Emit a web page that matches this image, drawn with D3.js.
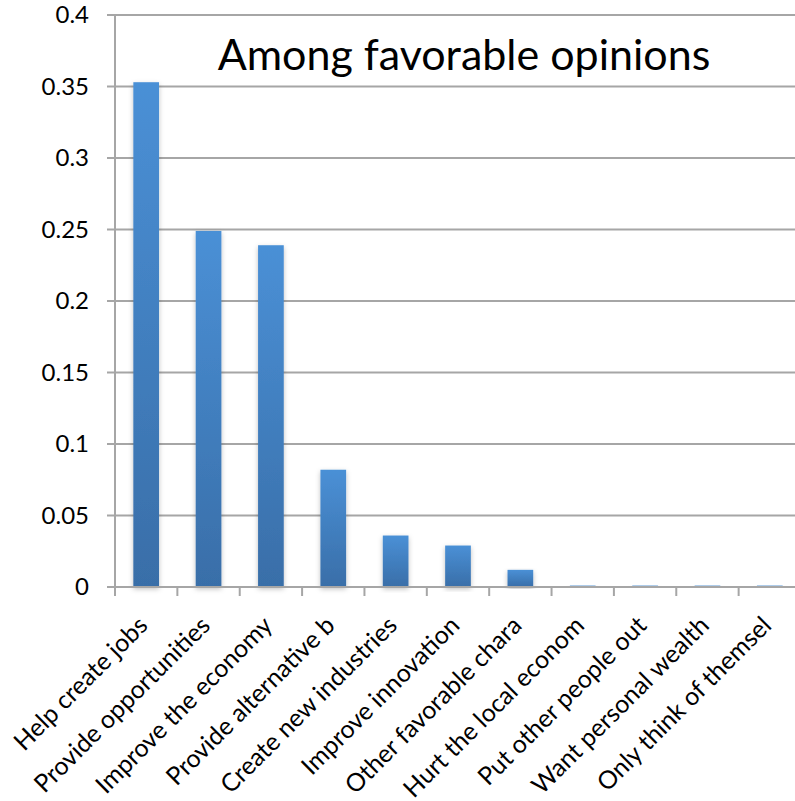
<!DOCTYPE html>
<html>
<head>
<meta charset="utf-8">
<script src="https://cdn.jsdelivr.net/npm/d3@7"></script>
<style>
  html, body { margin: 0; padding: 0; background: #fff; overflow: hidden; }
  svg { display: block; }
</style>
</head>
<body>
<svg id="chart" width="795" height="801"></svg>
<script>
const categories = [
  "Help create jobs",
  "Provide opportunities",
  "Improve the economy",
  "Provide alternative b",
  "Create new industries",
  "Improve innovation",
  "Other favorable chara",
  "Hurt the local econom",
  "Put other people out",
  "Want personal wealth",
  "Only think of themsel"
];
const values = [0.353, 0.249, 0.239, 0.082, 0.036, 0.029, 0.012, 0.001, 0.001, 0.001, 0.001];
const yTicks = [0, 0.05, 0.1, 0.15, 0.2, 0.25, 0.3, 0.35, 0.4];
const yTickLabels = ["0", "0.05", "0.1", "0.15", "0.2", "0.25", "0.3", "0.35", "0.4"];
const title = "Among favorable opinions";

const svg = d3.select("#chart");
const font = "Lato, 'Open Sans', sans-serif";
const plotLeft = 115, plotRight = 801, plotTop = 15, plotBottom = 587;

const x = d3.scaleBand().domain(categories).range([plotLeft, plotRight]).paddingInner(0.588).paddingOuter(0.294);
const y = d3.scaleLinear().domain([0, 0.4]).range([plotBottom, plotTop]);

const defs = svg.append("defs");
const grad = defs.append("linearGradient").attr("id", "barGrad").attr("x1", 0).attr("y1", 0).attr("x2", 0).attr("y2", 1);
grad.append("stop").attr("offset", "0%").attr("stop-color", "#4a90d6");
grad.append("stop").attr("offset", "100%").attr("stop-color", "#396ea8");
const filt = defs.append("filter").attr("id", "shadow").attr("x", "-30%").attr("y", "-10%").attr("width", "160%").attr("height", "120%");
filt.append("feDropShadow").attr("dx", 0).attr("dy", 2).attr("stdDeviation", 2.5).attr("flood-color", "#000").attr("flood-opacity", 0.25);

// gridlines
svg.append("g").selectAll("line").data(yTicks).join("line")
  .attr("x1", plotLeft - 8).attr("x2", 795)
  .attr("y1", d => y(d)).attr("y2", d => y(d))
  .attr("stroke", "#a6a6a6").attr("stroke-width", 2);

// y axis line
svg.append("line").attr("x1", plotLeft).attr("x2", plotLeft).attr("y1", y(0.4) - 1).attr("y2", plotBottom + 9)
  .attr("stroke", "#a6a6a6").attr("stroke-width", 2);

// x ticks
const bandStep = x.step();
const tickXs = d3.range(categories.length + 1).map(i => plotLeft + i * bandStep);
svg.append("g").selectAll("line").data(tickXs).join("line")
  .attr("x1", d => d).attr("x2", d => d).attr("y1", plotBottom).attr("y2", plotBottom + 9)
  .attr("stroke", "#a6a6a6").attr("stroke-width", 2);

// bars
svg.append("g").selectAll("rect").data(values).join("rect")
  .attr("x", (d, i) => x(categories[i]))
  .attr("width", x.bandwidth())
  .attr("y", d => y(d))
  .attr("height", d => Math.max(1, y(0) - y(d)))
  .attr("fill", "url(#barGrad)")
  .attr("filter", "url(#shadow)");

// redraw baseline on top
svg.append("line").attr("x1", plotLeft - 8).attr("x2", 795).attr("y1", plotBottom).attr("y2", plotBottom)
  .attr("stroke", "#a6a6a6").attr("stroke-width", 2);

// y tick labels
svg.append("g").selectAll("text").data(yTicks).join("text")
  .attr("x", 89).attr("y", d => y(d)).attr("dy", "0.35em")
  .attr("text-anchor", "end")
  .attr("font-family", font).attr("font-size", 24).attr("fill", "#000")
  .text((d, i) => yTickLabels[i]);

// x labels: size fitted to the reference label length
const probe = svg.append("text").attr("font-family", font).attr("font-size", 20).text(categories[0]);
const labelSize = 20 * 177 / probe.node().getComputedTextLength();
probe.remove();
svg.append("g").selectAll("text").data(categories).join("text")
  .attr("transform", d => `translate(${x(d) + x.bandwidth() / 2 + 3},627) rotate(-45)`)
  .attr("text-anchor", "end")
  .attr("font-family", font).attr("font-size", labelSize).attr("fill", "#000")
  .text(d => d);

// title
svg.append("text").attr("x", 464).attr("y", 70).attr("text-anchor", "middle")
  .attr("font-family", font).attr("font-size", 43).attr("fill", "#000")
  .text(title);
</script>
</body>
</html>
